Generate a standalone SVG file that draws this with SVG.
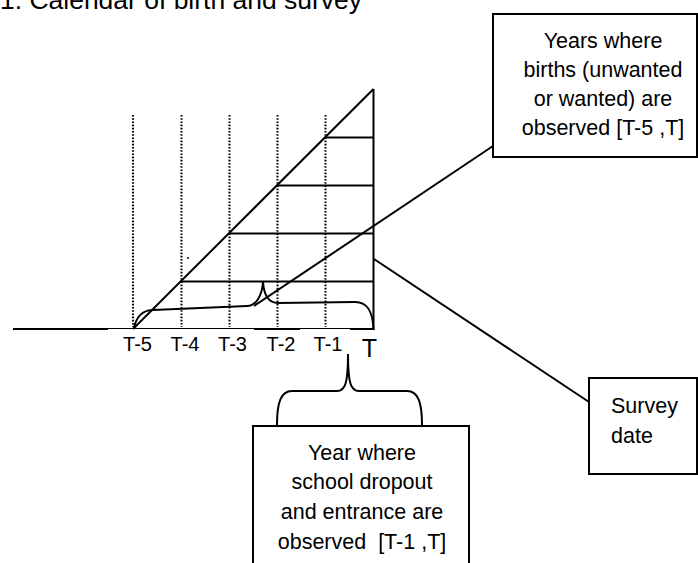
<svg xmlns="http://www.w3.org/2000/svg" width="698" height="563" viewBox="0 0 698 563">
<style>
text{font-family:"Liberation Sans",Arial,sans-serif;fill:#000}
.box{fill:#fff;stroke:#000;stroke-width:2}
.ln{fill:none;stroke:#000;stroke-width:2}
.thin{fill:none;stroke:#000;stroke-width:1}
.dot{fill:none;stroke:#000;stroke-width:2;stroke-dasharray:1.6 1.6}
.bt{font-size:21.5px;text-anchor:middle}
.lab{font-size:20px;text-anchor:middle}
</style>
<rect width="698" height="563" fill="#fff"/>
<g id="title"><text x="0" y="9" font-size="26.5" textLength="362" lengthAdjust="spacingAndGlyphs">1. Calendar of birth and survey</text></g>
<g id="calendar">
<line class="dot" x1="133" y1="115" x2="133" y2="327"/>
<line class="dot" x1="181.5" y1="115" x2="181.5" y2="327"/>
<line class="dot" x1="229.5" y1="115" x2="229.5" y2="327"/>
<line class="dot" x1="277.5" y1="115" x2="277.5" y2="327"/>
<line class="dot" x1="325.5" y1="115" x2="325.5" y2="327"/>
<line class="thin" x1="13" y1="328.5" x2="373" y2="328.5"/>
<line class="ln" x1="13" y1="329" x2="108" y2="329"/>
<line class="ln" x1="254" y1="329" x2="300" y2="329"/>
<line class="ln" x1="350" y1="329" x2="374" y2="329"/>
<line class="ln" x1="373.5" y1="89" x2="373.5" y2="330"/>
<line class="ln" x1="133" y1="329" x2="373.5" y2="89"/>
<line class="ln" x1="325.5" y1="137.5" x2="373.5" y2="137.5"/>
<line class="ln" x1="277.5" y1="185.5" x2="373.5" y2="185.5"/>
<line class="ln" x1="229.5" y1="233.5" x2="373.5" y2="233.5"/>
<line class="ln" x1="181.5" y1="281.5" x2="373.5" y2="281.5"/>
<circle cx="188" cy="258" r="1" fill="#000"/>
<path class="ln" d="M134,328 C136,318 142,310 153,310 L247,306 C256,306 262,296 263,282 C264,296 269,303 278,303 L355,302 C368,302 373,312 373.5,330"/>
<text class="lab" x="137.5" y="351">T-5</text>
<text class="lab" x="185" y="351">T-4</text>
<text class="lab" x="232.5" y="351">T-3</text>
<text class="lab" x="281" y="351">T-2</text>
<text class="lab" x="328" y="351">T-1</text>
<text x="369.5" y="357" font-size="25" text-anchor="middle">T</text>
<path class="ln" d="M277,425 C277,402 281,391 292,391 L337,391 C345,391 348,384 348,354 C348,384 351,391 359,391 L407,391 C418,391 422,402 422,425"/>
</g>
<g id="connectors">
<line class="ln" x1="254" y1="306" x2="493" y2="146"/>
<line class="ln" x1="374" y1="259" x2="589" y2="402"/>
</g>
<g id="box-births">
<rect class="box" x="493" y="14" width="204" height="143"/>
<text class="bt" x="603" y="48">Years where</text>
<text class="bt" x="603" y="77">births (unwanted</text>
<text class="bt" x="603" y="106">or wanted) are</text>
<text class="bt" x="603" y="135">observed [T-5 ,T]</text>
</g>
<g id="box-school">
<rect class="box" x="253" y="426" width="216" height="150"/>
<text class="bt" x="362" y="460">Year where</text>
<text class="bt" x="362" y="489">school dropout</text>
<text class="bt" x="362" y="519">and entrance are</text>
<text class="bt" x="362" y="549" style="white-space:pre">observed  [T-1 ,T]</text>
</g>
<g id="box-survey">
<rect class="box" x="589" y="378" width="108" height="96"/>
<text x="611" y="413" font-size="21.5">Survey</text>
<text x="611" y="443" font-size="21.5">date</text>
</g>
</svg>
